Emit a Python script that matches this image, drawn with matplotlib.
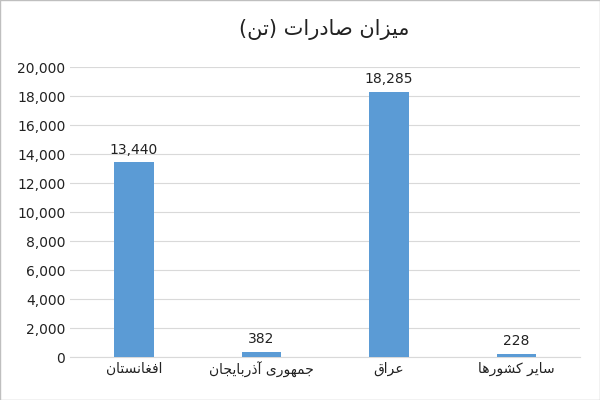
import matplotlib
matplotlib.use("Agg")
import matplotlib.pyplot as plt
from matplotlib.ticker import FuncFormatter

title = "میزان صادرات (تن)"
categories = ["افغانستان", "جمهوری آذربایجان", "عراق", "سایر کشورها"]
values = [13440, 382, 18285, 228]

FORMS = {
    '\u0627': ('\uFE8D', '\uFE8E', None, None),
    '\u0622': ('\uFE81', '\uFE82', None, None),
    '\u0628': ('\uFE8F', '\uFE90', '\uFE91', '\uFE92'),
    '\u062A': ('\uFE95', '\uFE96', '\uFE97', '\uFE98'),
    '\u062C': ('\uFE9D', '\uFE9E', '\uFE9F', '\uFEA0'),
    '\u062F': ('\uFEA9', '\uFEAA', None, None),
    '\u0630': ('\uFEAB', '\uFEAC', None, None),
    '\u0631': ('\uFEAD', '\uFEAE', None, None),
    '\u0632': ('\uFEAF', '\uFEB0', None, None),
    '\u0633': ('\uFEB1', '\uFEB2', '\uFEB3', '\uFEB4'),
    '\u0634': ('\uFEB5', '\uFEB6', '\uFEB7', '\uFEB8'),
    '\u0635': ('\uFEB9', '\uFEBA', '\uFEBB', '\uFEBC'),
    '\u0639': ('\uFEC9', '\uFECA', '\uFECB', '\uFECC'),
    '\u063A': ('\uFECD', '\uFECE', '\uFECF', '\uFED0'),
    '\u0641': ('\uFED1', '\uFED2', '\uFED3', '\uFED4'),
    '\u0642': ('\uFED5', '\uFED6', '\uFED7', '\uFED8'),
    '\u0644': ('\uFEDD', '\uFEDE', '\uFEDF', '\uFEE0'),
    '\u0645': ('\uFEE1', '\uFEE2', '\uFEE3', '\uFEE4'),
    '\u0646': ('\uFEE5', '\uFEE6', '\uFEE7', '\uFEE8'),
    '\u0647': ('\uFEE9', '\uFEEA', '\uFEEB', '\uFEEC'),
    '\u0648': ('\uFEED', '\uFEEE', None, None),
    '\u06CC': ('\uFBFC', '\uFBFD', '\uFBFE', '\uFBFF'),
    '\u06A9': ('\uFB8E', '\uFB8F', '\uFB90', '\uFB91'),
}

def shape(s):
    out = []
    n = len(s)
    for i, c in enumerate(s):
        if c not in FORMS:
            out.append(c)
            continue
        prev = s[i-1] if i > 0 else None
        nxt = s[i+1] if i < n-1 else None
        join_prev = prev in FORMS and FORMS[prev][2] is not None
        join_next = nxt in FORMS and FORMS[c][2] is not None
        iso, fin, ini, med = FORMS[c]
        if join_prev and join_next:
            out.append(med)
        elif join_prev:
            out.append(fin)
        elif join_next:
            out.append(ini)
        else:
            out.append(iso)
    vis = ''.join(out)[::-1]
    return vis.translate(str.maketrans('()', ')('))

plt.rcParams['font.family'] = ['DejaVu Sans']
fig = plt.figure(figsize=(6, 4), dpi=100)
ax = fig.add_axes([0.117, 0.107, 0.85, 0.725])
x = range(len(categories))
bars = ax.bar(x, values, width=0.31, color='#5B9BD5', zorder=3)
for b, v in zip(bars, values):
    ax.text(b.get_x() + b.get_width()/2, v + 400, f"{v:,}", ha='center', va='bottom', fontsize=10, color='#222222')
ax.set_ylim(0, 20000)
ax.set_yticks(range(0, 20001, 2000))
ax.yaxis.set_major_formatter(FuncFormatter(lambda v, p: f"{int(v):,}"))
ax.set_xticks(list(x))
ax.set_xticklabels([shape(c) for c in categories], fontsize=10)
ax.set_xlim(-0.5, len(categories) - 0.5)
ax.grid(axis='y', color='#d9d9d9', linewidth=0.8, zorder=0)
for s in ['top', 'right', 'left']:
    ax.spines[s].set_visible(False)
ax.spines['bottom'].set_color('#d9d9d9')
ax.tick_params(axis='both', length=0, labelsize=10, colors='#222222')
fig.text(0.54, 0.925, shape(title), ha='center', va='center', fontsize=15, color='#222222')
fig.patches.append(plt.Rectangle((0, 0), 1, 1, transform=fig.transFigure, fill=False, edgecolor='#bfbfbf', linewidth=1))
fig.savefig('out.png', dpi=100)
